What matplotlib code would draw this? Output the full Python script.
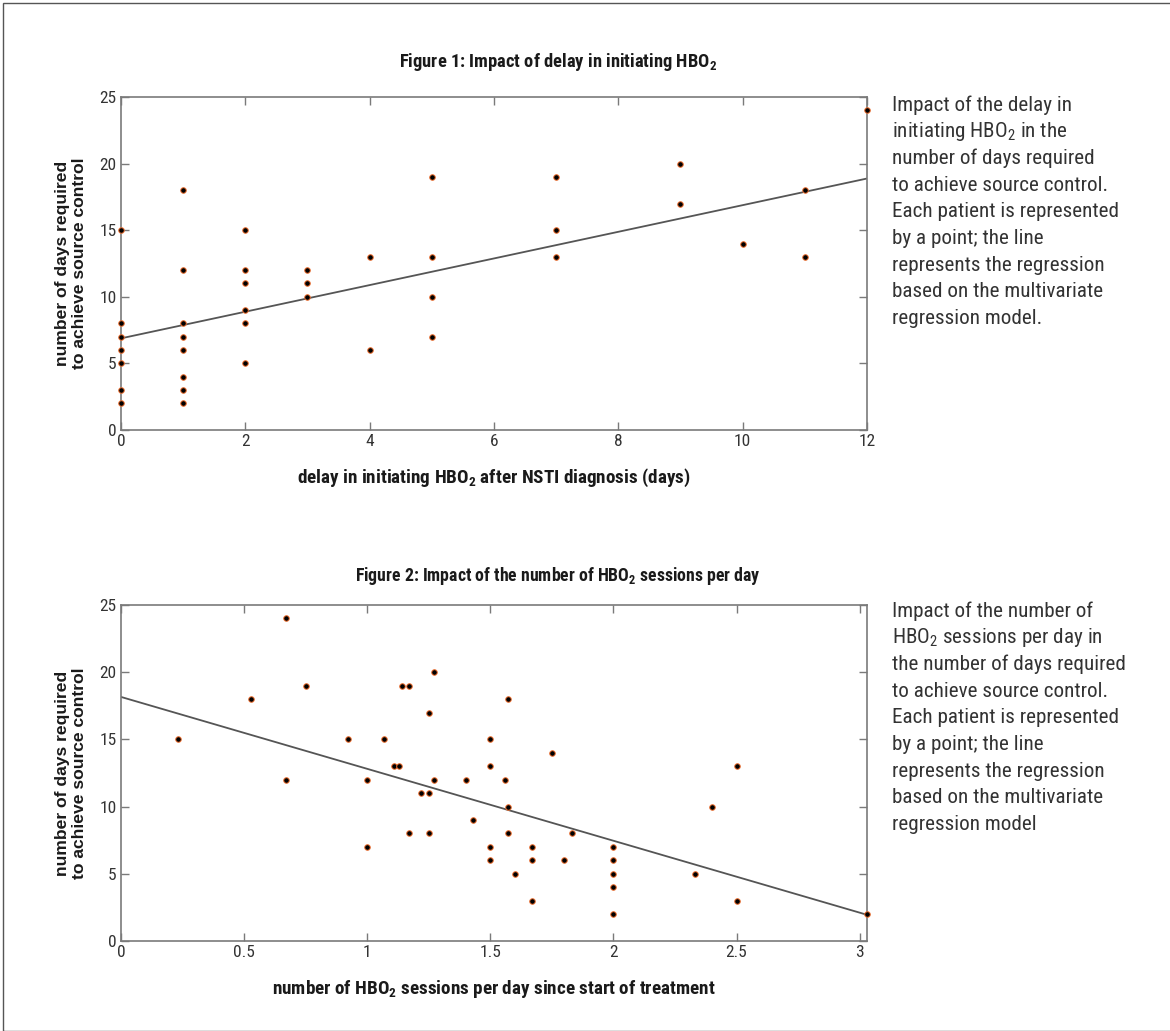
"""Recreate the two HBO2 regression scatter panels."""

import matplotlib

matplotlib.use("Agg")
import matplotlib.pyplot as plt
from matplotlib import font_manager
from matplotlib.patches import Rectangle

# ---- data --------------------------------------------------------------
delay_days = [0, 0, 0, 0, 0, 0, 0,
              1, 1, 1, 1, 1, 1, 1, 1,
              2, 2, 2, 2, 2, 2,
              3, 3, 3,
              4, 4,
              5, 5, 5, 5,
              7, 7, 7,
              9, 9,
              10,
              11, 11,
              12]
delay_source_days = [15, 8, 7, 6, 5, 3, 2,
                     18, 12, 8, 7, 6, 4, 3, 2,
                     15, 12, 11, 9, 8, 5,
                     12, 11, 10,
                     13, 6,
                     19, 13, 10, 7,
                     19, 15, 13,
                     20, 17,
                     14,
                     18, 13,
                     24]
delay_fit = (6.88, 1.0)  # intercept, slope

sessions_per_day = [0.23, 0.53, 0.67, 0.67, 0.75, 0.92, 1.0, 1.0, 1.07, 1.11,
                    1.13, 1.14, 1.17, 1.17, 1.22, 1.25, 1.25, 1.25, 1.27, 1.27,
                    1.40, 1.43, 1.50, 1.50, 1.50, 1.50, 1.57, 1.56, 1.57, 1.57,
                    1.60, 1.67, 1.67, 1.67, 1.75, 1.80, 1.83, 2.0, 2.0, 2.0,
                    2.0, 2.0, 2.33, 2.40, 2.50, 2.50, 3.03]
sessions_source_days = [15, 18, 24, 12, 19, 15, 12, 7, 15, 13,
                        13, 19, 19, 8, 11, 17, 11, 8, 20, 12,
                        12, 9, 15, 13, 7, 6, 18, 12, 10, 8,
                        5, 7, 6, 3, 14, 6, 8, 7, 6, 5,
                        4, 2, 5, 10, 13, 3, 2]
sessions_fit = (18.16, -5.35)

delay_ticks = [0, 2, 4, 6, 8, 10, 12]
sessions_ticks = [0, 0.5, 1, 1.5, 2, 2.5, 3]
sessions_ticklabels = ["0", "0.5", "1", "1.5", "2", "2.5", "3"]
y_ticks = [0, 5, 10, 15, 20, 25]

caption1 = ["Impact of the delay in",
            "initiating HBO$_2$ in the",
            "number of days required",
            "to achieve source control.",
            "Each patient is represented",
            "by a point; the line",
            "represents the regression",
            "based on the multivariate",
            "regression model."]
caption2 = ["Impact of the number of",
            "HBO$_2$ sessions per day in",
            "the number of days required",
            "to achieve source control.",
            "Each patient is represented",
            "by a point; the line",
            "represents the regression",
            "based on the multivariate",
            "regression model"]

# ---- style -------------------------------------------------------------
installed = {f.name for f in font_manager.fontManager.ttflist}
narrow = next((n for n in ["Roboto Condensed", "Liberation Sans Narrow",
                           "Liberation Sans", "Roboto"]
               if n in installed), "DejaVu Sans")
wide = "Liberation Sans" if "Liberation Sans" in installed else "DejaVu Sans"
plt.rcParams["font.family"] = [narrow, "DejaVu Sans"]
plt.rcParams["mathtext.fontset"] = "custom"
plt.rcParams["mathtext.rm"] = narrow
plt.rcParams["mathtext.bf"] = narrow + ":black"

W, H = 1170, 1031
fig = plt.figure(figsize=(W / 100, H / 100), dpi=100)
fig.patches.append(Rectangle((3 / W, 0), 1.2, 1 - 3 / H, transform=fig.transFigure,
                             fill=False, edgecolor="#555555", linewidth=1.0))

SPINE = "#7a7a7a"
TEXT = "#1a1a1a"


def style_axes(ax, xlim, xticks, xticklabels, xlabel):
    ax.set_xlim(*xlim)
    ax.set_ylim(0, 25)
    ax.set_xticks(xticks)
    ax.set_xticklabels(xticklabels)
    ax.set_yticks(y_ticks)
    for s in ax.spines.values():
        s.set_color(SPINE)
        s.set_linewidth(1.2)
    ax.tick_params(direction="in", top=True, right=True, length=6, width=1,
                   color=SPINE, labelsize=12.5, labelcolor="#333333", pad=3)
    ax.set_xlabel(xlabel, fontsize=13.8, fontweight="black", color=TEXT, labelpad=13)
    ax.set_ylabel("number of days required\nto achieve source control",
                  family=[wide, "DejaVu Sans"], fontsize=12.6, fontweight="bold",
                  color=TEXT, labelpad=9, linespacing=1.2)


def scatter_fit(ax, x, y, fit, xmax):
    b0, b1 = fit
    ax.plot([0, xmax], [b0, b0 + b1 * xmax], color="#555555", linewidth=1.3, zorder=2)
    ax.scatter(x, y, s=16, color="black", edgecolors="#f07030", linewidths=0.7,
               zorder=3, clip_on=False)


ax1 = fig.add_axes([121 / W, 1 - 430 / H, 746 / W, 333 / H])
scatter_fit(ax1, delay_days, delay_source_days, delay_fit, 12)
style_axes(ax1, (0, 12), delay_ticks, [str(t) for t in delay_ticks],
           r"delay in initiating HBO$_\mathbf{2}$ after NSTI diagnosis (days)")

ax2 = fig.add_axes([121 / W, 1 - 941 / H, 746 / W, 336 / H])
scatter_fit(ax2, sessions_per_day, sessions_source_days, sessions_fit, 3.03)
style_axes(ax2, (0, 3.03), sessions_ticks, sessions_ticklabels,
           r"number of HBO$_\mathbf{2}$ sessions per day since start of treatment")

fig.text(558 / W, 1 - 62 / H, r"Figure 1: Impact of delay in initiating HBO$_\mathbf{2}$",
         ha="center", va="center", fontsize=13.3, fontweight="black", color=TEXT)
fig.text(558 / W, 1 - 576 / H,
         r"Figure 2: Impact of the number of HBO$_\mathbf{2}$ sessions per day",
         ha="center", va="center", fontsize=12.8, fontweight="black", color=TEXT)

for top, lines in ((105, caption1), (611, caption2)):
    for i, line in enumerate(lines):
        fig.text(892 / W, 1 - (top + i * 26.7) / H, line, ha="left", va="center",
                 fontsize=15.2, color="#333333")

fig.savefig("out.png", dpi=100)
